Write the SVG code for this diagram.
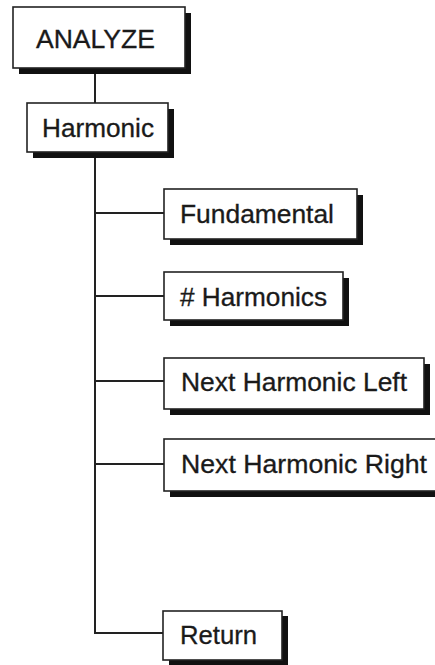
<svg xmlns="http://www.w3.org/2000/svg" width="435" height="665" viewBox="0 0 435 665">
<style>
.sh{fill:#111}
.bx{fill:#fff;stroke:#222;stroke-width:1.6}
.t{font-family:"Liberation Sans",Arial,sans-serif;font-size:25px;fill:#1a1a1a;stroke:#1a1a1a;stroke-width:0.3}
.c{fill:none;stroke:#222;stroke-width:2}
</style>
<rect width="435" height="665" fill="#fff"/>
<g id="connectors">
<path class="c" d="M95 68V103"/>
<path class="c" d="M95 152V633H164"/>
<path class="c" d="M95 213H164"/>
<path class="c" d="M95 296H164"/>
<path class="c" d="M95 381H164"/>
<path class="c" d="M95 464H164"/>
</g>
<g id="n-analyze">
<rect class="sh" x="19" y="13" width="172" height="61"/>
<rect class="bx" x="13" y="7" width="172" height="61"/>
<text class="t" x="36" y="48" font-size="22" textLength="119" lengthAdjust="spacingAndGlyphs">ANALYZE</text>
</g>
<g id="n-harmonic">
<rect class="sh" x="33" y="109" width="141" height="49"/>
<rect class="bx" x="27" y="103" width="141" height="49"/>
<text class="t" x="42" y="137" textLength="112" lengthAdjust="spacingAndGlyphs">Harmonic</text>
</g>
<g id="n-fundamental">
<rect class="sh" x="170" y="195" width="193" height="50"/>
<rect class="bx" x="164" y="189" width="193" height="50"/>
<text class="t" x="180" y="223" textLength="154" lengthAdjust="spacingAndGlyphs">Fundamental</text>
</g>
<g id="n-harmonics">
<rect class="sh" x="170" y="278" width="179" height="48"/>
<rect class="bx" x="164" y="272" width="179" height="48"/>
<text class="t" x="180" y="306" textLength="147" lengthAdjust="spacingAndGlyphs"># Harmonics</text>
</g>
<g id="n-nhl">
<rect class="sh" x="170" y="364" width="260" height="51"/>
<rect class="bx" x="164" y="358" width="260" height="51"/>
<text class="t" x="181" y="391" textLength="226" lengthAdjust="spacingAndGlyphs">Next Harmonic Left</text>
</g>
<g id="n-nhr">
<rect class="sh" x="170" y="445" width="280" height="52"/>
<rect class="bx" x="164" y="439" width="280" height="52"/>
<text class="t" x="181" y="473" textLength="246" lengthAdjust="spacingAndGlyphs">Next Harmonic Right</text>
</g>
<g id="n-return">
<rect class="sh" x="169" y="616" width="119" height="49"/>
<rect class="bx" x="163" y="611" width="119" height="49"/>
<text class="t" x="180" y="644" textLength="77" lengthAdjust="spacingAndGlyphs">Return</text>
</g>
</svg>
